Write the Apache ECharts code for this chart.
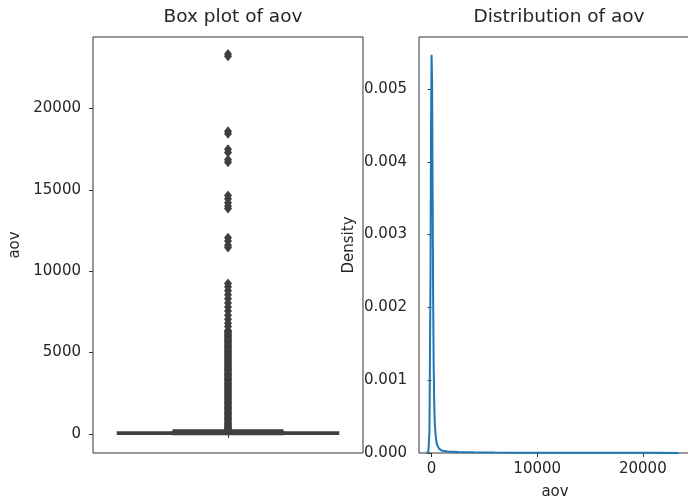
<!DOCTYPE html>
<html>
<head>
<meta charset="utf-8">
<script src="https://cdn.jsdelivr.net/npm/echarts@6/dist/echarts.min.js"></script>
<style>
html,body{margin:0;padding:0;background:#fff;}
#chart{width:688px;height:500px;}
</style>
</head>
<body>
<div id="chart"></div>
<script>
// ---- data ----
const boxCategories = [''];
// [lower whisker, Q1, median, Q3, upper whisker]
const boxStats = [0, 15, 45, 95, 210];
const fliers = [
  23350, 23200, 18600, 18450, 17500, 17300, 16850, 16700,
  14650, 14450, 14200, 14000, 13850, 12050, 11850, 11600, 11450,
  9250, 9050, 8800, 8550, 8300, 8050, 7800, 7550, 7300, 7050, 6800, 6600,
  6350, 6280, 6200, 6120, 6050, 5980, 5900, 5820, 5750, 5680, 5600, 5520,
  5450, 5380, 5300, 5220, 5150, 5080, 5000, 4920, 4850, 4780, 4700, 4620,
  4550, 4480, 4400, 4320, 4250, 4180, 4100, 4020, 3950, 3880, 3800, 3720,
  3650, 3580, 3500, 3420, 3350, 3280, 3200, 3120, 3050, 2980, 2900, 2820,
  2750, 2680, 2600, 2520, 2450, 2380, 2300, 2220, 2150, 2080, 2000, 1920,
  1850, 1780, 1700, 1620, 1550, 1480, 1400, 1320, 1250, 1180, 1100, 1020,
  950, 880, 800, 720, 650, 580, 500, 440, 380, 330, 290, 250, 230
];
const boxYTicks = [0, 5000, 10000, 15000, 20000];

const kdeX = [-500, -300, -200, -100, -50, 0, 50, 100, 150, 200, 250, 300, 400, 500, 700, 1000, 1500, 2500, 4000, 6000, 9000, 12000, 15000, 18000, 21000, 23370];
const kdeY = [0, 0.00002, 0.0003, 0.0025, 0.0045, 0.00547, 0.0051, 0.0036, 0.0021, 0.0012, 0.0007, 0.00042, 0.00022, 0.00012, 0.00006, 0.00003, 0.00002, 0.000015, 0.00001, 0.000007, 0.000005, 0.000004, 0.000003, 0.000003, 0.000002, 0.000001];
const kdeXTicks = [0, 10000, 20000];
const kdeYTicks = [0, 0.001, 0.002, 0.003, 0.004, 0.005];

// ---- styles ----
const FONT = 'DejaVu Sans';
const TXT = '#262626';
const SPINE = '#333333';
const tickFs = 15;

const chart = echarts.init(document.getElementById('chart'), null, {renderer: 'canvas'});

const option = {
  backgroundColor: '#fff',
  animation: false,
  textStyle: {fontFamily: FONT, color: TXT},
  title: [
    {text: 'Box plot of aov', left: 228, top: 3, textAlign: 'center',
     textStyle: {fontFamily: FONT, fontSize: 18.5, fontWeight: 'normal', color: TXT}},
    {text: 'Distribution of aov', left: 554, top: 3, textAlign: 'center',
     textStyle: {fontFamily: FONT, fontSize: 18.5, fontWeight: 'normal', color: TXT}}
  ],
  grid: [
    {left: 93, top: 37, width: 270, height: 416, show: true, borderColor: SPINE, borderWidth: 1,
     backgroundColor: 'transparent', containLabel: false, outerBoundsMode: 'none'},
    {left: 419, top: 37, width: 272, height: 416, show: true, borderColor: SPINE, borderWidth: 1,
     backgroundColor: 'transparent', containLabel: false, outerBoundsMode: 'none'}
  ],
  xAxis: [
    {type: 'category', gridIndex: 0, data: boxCategories, boundaryGap: true,
     axisLine: {show: false},
     axisTick: {show: true, alignWithLabel: true, length: 4, inside: false, lineStyle: {color: SPINE}},
     axisLabel: {show: false}, splitLine: {show: false}},
    {type: 'category', gridIndex: 0, data: boxCategories, boundaryGap: true, show: false},
    {type: 'value', gridIndex: 1, min: -1190, max: 24560,
     name: 'aov', nameLocation: 'middle', nameGap: 32,
     nameTextStyle: {fontFamily: FONT, fontSize: tickFs, color: TXT},
     axisLine: {show: false},
     axisTick: {show: true, length: 4, lineStyle: {color: SPINE}, customValues: kdeXTicks},
     axisLabel: {fontFamily: FONT, fontSize: tickFs, color: TXT, margin: 9, customValues: kdeXTicks, formatter: v => String(v)},
     splitLine: {show: false}}
  ],
  yAxis: [
    {type: 'value', gridIndex: 0, min: -1170, max: 24390,
     name: 'aov', nameLocation: 'middle', nameGap: 70, nameRotate: 90,
     nameTextStyle: {fontFamily: FONT, fontSize: tickFs, color: TXT},
     axisLine: {show: false},
     axisTick: {show: true, length: 4, lineStyle: {color: SPINE}, customValues: boxYTicks},
     axisLabel: {fontFamily: FONT, fontSize: tickFs, color: TXT, margin: 12, customValues: boxYTicks, formatter: v => String(v)},
     splitLine: {show: false}},
    {type: 'value', gridIndex: 1, min: 0, max: 0.005714,
     name: 'Density', nameLocation: 'middle', nameGap: 62, nameRotate: 90,
     nameTextStyle: {fontFamily: FONT, fontSize: tickFs, color: TXT},
     axisLine: {show: false},
     axisTick: {show: true, length: 4, lineStyle: {color: SPINE}, customValues: kdeYTicks},
     axisLabel: {fontFamily: FONT, fontSize: tickFs, color: TXT, margin: 12, customValues: kdeYTicks, formatter: v => v.toFixed(3)},
     splitLine: {show: false}}
  ],
  series: [
    {type: 'boxplot', xAxisIndex: 0, yAxisIndex: 0, boxWidth: [220, 220],
     data: [[boxStats[1], boxStats[1], boxStats[2], boxStats[3], boxStats[3]]],
     itemStyle: {color: '#3274a1', borderColor: '#3f3f3f', borderWidth: 2.5}},
    {type: 'boxplot', xAxisIndex: 1, yAxisIndex: 0, boxWidth: [111, 111],
     data: [boxStats],
     itemStyle: {color: '#3274a1', borderColor: '#3f3f3f', borderWidth: 2.5}},
    {type: 'scatter', xAxisIndex: 0, yAxisIndex: 0, symbol: 'diamond', symbolSize: [8, 10],
     data: fliers.map(v => [0, v]),
     itemStyle: {color: '#3f3f3f', opacity: 1}},
    {type: 'line', xAxisIndex: 2, yAxisIndex: 1, showSymbol: false, smooth: false,
     data: kdeX.map((x, i) => [x, kdeY[i]]),
     lineStyle: {color: '#1f77b4', width: 2}}
  ]
};
chart.setOption(option);
</script>
</body>
</html>
